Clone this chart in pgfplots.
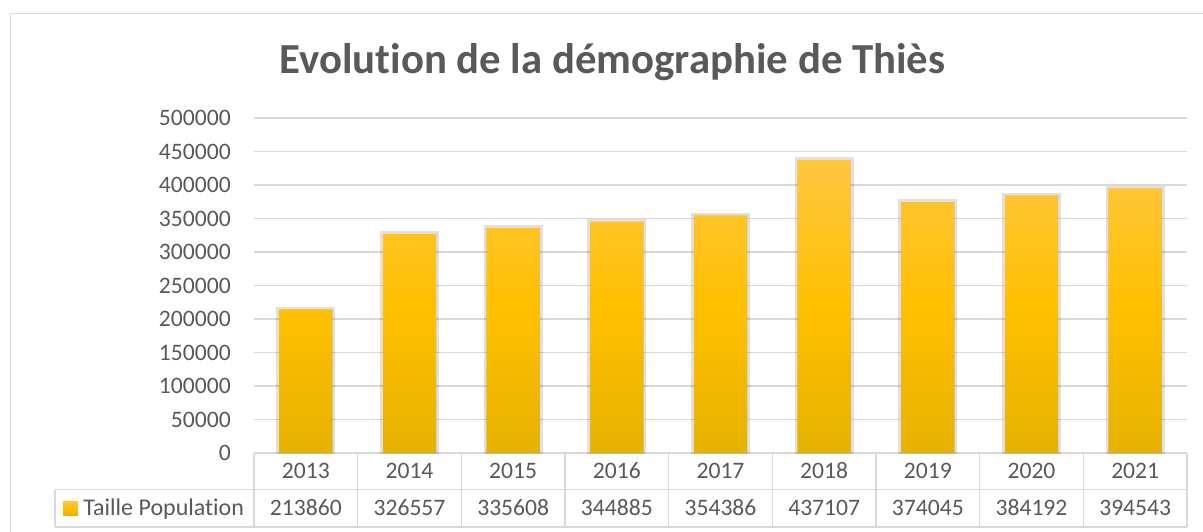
\documentclass[border=0pt]{standalone}
\usepackage{fontspec}
\setmainfont{Carlito}[Ligatures=NoCommon]
\usepackage{pgfplots}
\pgfplotsset{compat=1.18}
\definecolor{txt}{HTML}{595959}
\definecolor{grd}{HTML}{D9D9D9}
\definecolor{btop}{RGB}{255,198,64}
\definecolor{bmid}{RGB}{255,192,0}
\definecolor{bbot}{RGB}{230,178,0}
\begin{document}
\begin{tikzpicture}
\useasboundingbox (0,0) rectangle (601.5pt,265.5pt);
\begin{scope}[x=0.5pt,y=-0.5pt,yshift=265.5pt]
\clip (0,0) rectangle (1203,531);
\draw[grd, line width=0.75pt] (10.5,13.5) rectangle (1240,570);
\draw[grd, line width=0.75pt] (254,453) -- (1187,453);
\draw[grd, line width=0.75pt] (55,489.5) -- (1187,489.5);
\draw[grd, line width=0.75pt] (55,527) -- (1187,527);
\draw[grd, line width=0.75pt] (55,489.5) -- (55,527);
\foreach \k in {0,...,9} \draw[grd, line width=0.75pt] ({254+\k*103.67},453) -- ({254+\k*103.67},527);
\node[text=txt, font=\fontsize{21.4}{25}\selectfont\bfseries, anchor=base, inner sep=0pt] at (612.5,74) {Evolution de la démographie de Thiès};
\fill[top color=btop, bottom color=bbot, middle color=bmid] (63,501) rectangle (78,515);
\node[text=txt, font=\fontsize{12}{14}\selectfont, anchor=base west, inner sep=0pt] at (83,515.5) {Taille Population};
\end{scope}
\begin{axis}[
  at={(127pt,39pt)}, anchor=south west,
  scale only axis, width=466.5pt, height=167.5pt,
  xmin=-0.5, xmax=8.5, ymin=0, ymax=500000,
  ybar, bar width=26.5pt,
  ytick={0,50000,...,500000},
  scaled y ticks=false,
  ymajorgrids, grid style={grd, line width=0.6pt},
  axis line style={draw=none}, major tick length=0pt,
  xtick={0,...,8},
  xticklabels={2013,2014,2015,2016,2017,2018,2019,2020,2021},
  extra x ticks={0,...,8},
  extra x tick labels={213860,326557,335608,344885,354386,437107,374045,384192,394543},
  extra x tick style={grid=none, xticklabel style={yshift=-18.5pt}},
  /pgf/number format/fixed,
  /pgf/number format/precision=0,
  /pgf/number format/assume math mode=true,
  /pgf/number format/1000 sep={},
  tick label style={font=\fontsize{11.8}{14}\selectfont, text=txt},
  yticklabel style={xshift=-8.1pt},
  xticklabel style={anchor=base, yshift=-12.75pt},
]
\addplot[draw=none, top color=btop, bottom color=bbot, middle color=bmid,
  preaction={draw=black, draw opacity=0.12, line width=3pt}]
  coordinates {(0,213860) (1,326557) (2,335608) (3,344885) (4,354386) (5,437107) (6,374045) (7,384192) (8,394543)};
\end{axis}
\end{tikzpicture}
\end{document}
